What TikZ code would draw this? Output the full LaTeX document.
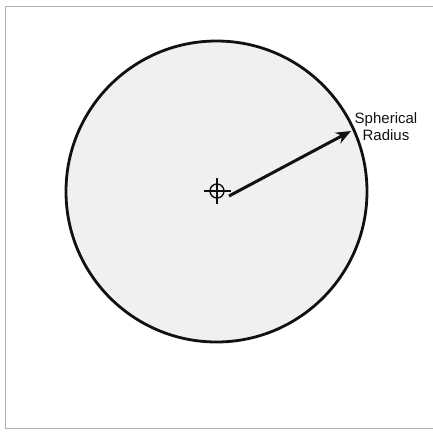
\documentclass[tikz,border=0pt]{standalone}
\usepackage{fontspec}
\setmainfont{Liberation Sans}
\usepackage{tikz}
\usetikzlibrary{arrows.meta,positioning}
\definecolor{sphfill}{HTML}{F0F0F0}
\definecolor{framegray}{HTML}{B0B0B0}
\definecolor{ink}{HTML}{111111}
\tikzset{
  spherebody/.style={
    circle, draw=ink, fill=sphfill, line width=2.8pt,
    minimum size=301pt, inner sep=0pt
  },
  crossring/.style={
    circle, draw=ink, line width=1.4pt,
    minimum size=14pt, inner sep=0pt
  },
  crossbar/.style={
    draw=ink, line width=1.8pt
  },
  radiusarrow/.style={
    -{Stealth[length=15pt, width=12pt]}, line width=3pt, color=#1
  },
  radiusarrow/.default=ink,
  labelnode/.style={
    font=\fontsize{15}{17}\selectfont, align=center, text=ink
  },
}
\begin{document}
\begin{tikzpicture}[x=1pt, y=-1pt]
\useasboundingbox (0,0) rectangle (433,434);

% frame, open on the right
\draw[framegray, line width=1pt] (433,6) -- (5,6) -- (5,428) -- (433,428);

% sphere and its centre mark
\node[spherebody] (sphere) at (216.5,191.5) {};
\node[crossring] (centre) at (217,191) {};
\draw[crossbar] ([xshift=-13pt]centre.center) -- ([xshift=14pt]centre.center);
\draw[crossbar] ([yshift=13pt]centre.center) -- ([yshift=-13pt]centre.center);

% radius arrow and label
\coordinate (rimpt) at (351,131);
\draw[radiusarrow] ([shift={(12pt,-5pt)}]centre.center) -- (rimpt);
\node[labelnode] (radlabel) at (386,127) {Spherical\\Radius};

\end{tikzpicture}
\end{document}
